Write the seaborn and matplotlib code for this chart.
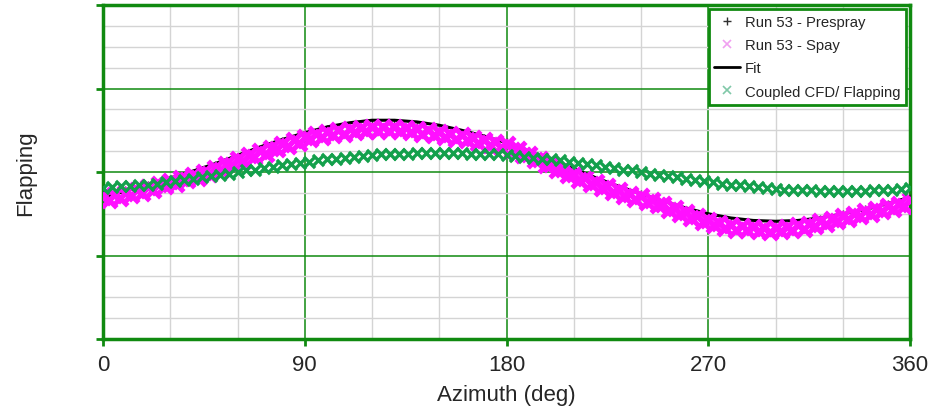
import numpy as np
import pandas as pd
import matplotlib
matplotlib.use("Agg")
import matplotlib.pyplot as plt
from matplotlib.lines import Line2D
from matplotlib.ticker import MultipleLocator
import seaborn as sns

# azimuth grids (deg)
az_spray = list(range(0, 361, 5))
az_spray2 = [a + 2.5 for a in range(0, 360, 5)]
az_fit = list(range(0, 361, 10))
az_cfd = list(range(0, 361, 4))

# Run 53 - Spay (magenta band), two revolutions
spray = [1.70, 1.72, 1.75, 1.78, 1.82, 1.86, 1.89, 1.93, 1.96, 2.00,
         2.05, 2.10, 2.15, 2.20, 2.25, 2.29, 2.34, 2.38, 2.42, 2.45,
         2.48, 2.50, 2.52, 2.53, 2.54, 2.54, 2.54, 2.53, 2.52, 2.50,
         2.48, 2.46, 2.44, 2.41, 2.38, 2.36, 2.33, 2.28, 2.22, 2.16,
         2.10, 2.04, 1.98, 1.93, 1.88, 1.83, 1.78, 1.74, 1.71, 1.67,
         1.62, 1.57, 1.52, 1.47, 1.42, 1.39, 1.37, 1.35, 1.34, 1.33,
         1.33, 1.34, 1.36, 1.38, 1.41, 1.44, 1.47, 1.50, 1.53, 1.56,
         1.59, 1.62, 1.66]
spray2 = [1.66, 1.69, 1.72, 1.75, 1.79, 1.83, 1.86, 1.90, 1.93, 1.98,
          2.03, 2.08, 2.13, 2.18, 2.22, 2.27, 2.31, 2.35, 2.39, 2.42,
          2.44, 2.46, 2.48, 2.49, 2.49, 2.49, 2.49, 2.48, 2.46, 2.44,
          2.42, 2.40, 2.38, 2.35, 2.32, 2.30, 2.26, 2.20, 2.14, 2.08,
          2.02, 1.96, 1.91, 1.86, 1.81, 1.76, 1.71, 1.68, 1.64, 1.60,
          1.55, 1.50, 1.45, 1.40, 1.36, 1.33, 1.31, 1.30, 1.29, 1.28,
          1.29, 1.30, 1.32, 1.35, 1.38, 1.41, 1.44, 1.47, 1.50, 1.53,
          1.56, 1.59]

# Fit (black line)
fit = [1.70, 1.77, 1.85, 1.93, 2.01, 2.10, 2.20, 2.30, 2.39, 2.47,
       2.54, 2.59, 2.62, 2.62, 2.60, 2.56, 2.50, 2.43, 2.35, 2.25,
       2.15, 2.04, 1.93, 1.83, 1.74, 1.65, 1.57, 1.50, 1.45, 1.42,
       1.41, 1.42, 1.45, 1.50, 1.55, 1.62, 1.70]

# Run 53 - Prespray (mostly hidden under the spray band)
prespray = [1.73, 1.78, 1.85, 1.92, 1.99, 2.08, 2.18, 2.28, 2.37, 2.45,
            2.51, 2.55, 2.57, 2.57, 2.55, 2.51, 2.47, 2.41, 2.36, 2.25,
            2.13, 2.01, 1.91, 1.81, 1.74, 1.65, 1.55, 1.45, 1.40, 1.37,
            1.36, 1.39, 1.44, 1.50, 1.56, 1.62, 1.69]

# Coupled CFD/ Flapping (green)
cfd = [1.81, 1.82, 1.83, 1.83, 1.84, 1.85, 1.86, 1.88, 1.89, 1.91,
       1.92, 1.94, 1.95, 1.97, 1.98, 2.00, 2.02, 2.03, 2.05, 2.06,
       2.08, 2.09, 2.11, 2.12, 2.14, 2.15, 2.16, 2.17, 2.18, 2.19,
       2.20, 2.21, 2.21, 2.22, 2.22, 2.23, 2.23, 2.23, 2.23, 2.23,
       2.23, 2.22, 2.22, 2.21, 2.21, 2.20, 2.19, 2.18, 2.17, 2.16,
       2.15, 2.14, 2.12, 2.11, 2.09, 2.08, 2.06, 2.05, 2.03, 2.02,
       2.00, 1.98, 1.97, 1.95, 1.94, 1.92, 1.91, 1.89, 1.88, 1.86,
       1.85, 1.84, 1.83, 1.82, 1.81, 1.80, 1.79, 1.79, 1.78, 1.78,
       1.77, 1.77, 1.77, 1.77, 1.77, 1.77, 1.78, 1.78, 1.79, 1.80,
       1.81]

green = "#108a10"
cfd_green = "#14a04c"
magenta = "#ff10ff"

sns.set_style("white")
plt.rcParams["font.family"] = ["Liberation Sans", "DejaVu Sans"]

fig = plt.figure(figsize=(9.34, 4.14), dpi=100)
ax = fig.add_axes([0.1103, 0.1787, 0.8640, 0.8068])

df_spray = pd.DataFrame({"az": az_spray + az_spray2, "flap": spray + spray2})
df_fit = pd.DataFrame({"az": az_fit, "flap": fit, "pre": prespray})
df_cfd = pd.DataFrame({"az": az_cfd, "flap": cfd})

sns.scatterplot(data=df_fit, x="az", y="pre", marker="+", s=40, color="#303030",
                linewidth=1, ax=ax, zorder=3)
sns.scatterplot(data=df_spray, x="az", y="flap", marker="x", s=110, color=magenta,
                linewidth=3.6, ax=ax, zorder=4)
sns.lineplot(data=df_fit, x="az", y="flap", color="black", linewidth=2.2, ax=ax, zorder=3.5)
sns.scatterplot(data=df_cfd, x="az", y="flap", marker="x", s=65, color=cfd_green,
                linewidth=2.4, ax=ax, zorder=6)

ax.set_xlim(0, 360)
ax.set_ylim(0, 4)
ax.xaxis.set_major_locator(MultipleLocator(90))
ax.xaxis.set_minor_locator(MultipleLocator(30))
ax.yaxis.set_major_locator(MultipleLocator(1))
ax.yaxis.set_minor_locator(MultipleLocator(0.25))
ax.grid(which="minor", color="#d4d4d4", linewidth=1)
ax.grid(which="major", color=green, linewidth=1.1)
ax.set_axisbelow(True)
ax.set_yticklabels([])
ax.tick_params(axis="both", which="major", color=green, length=5, width=2,
               labelsize=16, left=True, bottom=True)
ax.tick_params(axis="x", pad=6)
ax.tick_params(which="minor", length=0)
for sp in ax.spines.values():
    sp.set_color(green)
    sp.set_linewidth(2.5)
    sp.set_visible(True)

ax.set_xlabel("Azimuth (deg)", fontsize=16, labelpad=6)
ax.set_ylabel("Flapping", fontsize=16)
ax.yaxis.set_label_coords(-0.083, 0.5)

handles = [
    Line2D([], [], linestyle="none", marker="+", color="#303030", markersize=6, mew=1),
    Line2D([], [], linestyle="none", marker="x", color="#f0a0f0", markersize=6, mew=1.2),
    Line2D([], [], color="black", linewidth=2),
    Line2D([], [], linestyle="none", marker="x", color="#80c8a8", markersize=6, mew=1.2),
]
labels = ["Run 53 - Prespray", "Run 53 - Spay", "Fit", "Coupled CFD/ Flapping"]
leg = ax.legend(handles, labels, loc="upper right", bbox_to_anchor=(0.9955, 0.988),
                fontsize=10.7, frameon=True, fancybox=False, framealpha=1,
                borderpad=0.4, labelspacing=0.62, handlelength=1.7,
                handletextpad=0.35, borderaxespad=0)
leg.get_frame().set_edgecolor(green)
leg.get_frame().set_linewidth(2)

fig.savefig("out.png", dpi=100)
